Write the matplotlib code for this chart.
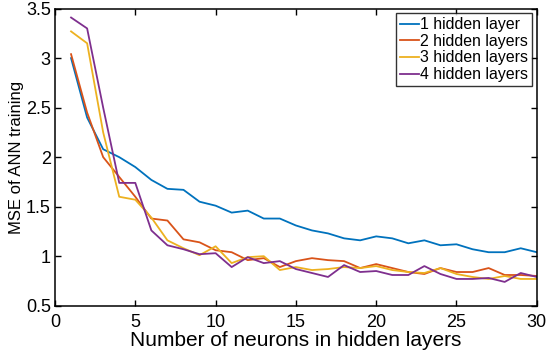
import matplotlib
matplotlib.use("Agg")
import matplotlib.pyplot as plt

neurons = list(range(1, 31))
mse_1 = [3.00, 2.40, 2.08, 2.00, 1.90, 1.77, 1.68, 1.67, 1.55, 1.51,
         1.44, 1.46, 1.38, 1.38, 1.31, 1.26, 1.23, 1.18, 1.16, 1.20,
         1.18, 1.13, 1.16, 1.11, 1.12, 1.07, 1.04, 1.04, 1.08, 1.04]
mse_2 = [3.04, 2.45, 2.00, 1.80, 1.60, 1.38, 1.36, 1.17, 1.14, 1.06,
         1.04, 0.96, 0.98, 0.89, 0.95, 0.98, 0.96, 0.95, 0.88, 0.92,
         0.88, 0.84, 0.82, 0.88, 0.84, 0.84, 0.88, 0.81, 0.81, 0.80]
mse_3 = [3.27, 3.15, 2.25, 1.60, 1.57, 1.39, 1.16, 1.08, 1.01, 1.10,
         0.93, 0.99, 1.00, 0.86, 0.89, 0.86, 0.87, 0.89, 0.88, 0.90,
         0.86, 0.84, 0.83, 0.88, 0.82, 0.79, 0.77, 0.80, 0.77, 0.77]
mse_4 = [3.41, 3.30, 2.50, 1.74, 1.74, 1.26, 1.11, 1.07, 1.02, 1.03,
         0.89, 0.99, 0.93, 0.95, 0.87, 0.83, 0.79, 0.91, 0.84, 0.85,
         0.81, 0.81, 0.90, 0.82, 0.77, 0.77, 0.78, 0.74, 0.83, 0.79]
labels = ["1 hidden layer", "2 hidden layers", "3 hidden layers", "4 hidden layers"]
colors = ["#0072BD", "#D95319", "#EDB120", "#7E2F8E"]
xticks = [0, 5, 10, 15, 20, 25, 30]
yticks = [0.5, 1, 1.5, 2, 2.5, 3, 3.5]

plt.rcParams['font.family'] = ['Liberation Sans', 'DejaVu Sans']

fig = plt.figure(figsize=(5.5, 3.59), dpi=100)
ax = fig.add_axes([0.1, 0.1485, 0.876, 0.8275])
for ys, lab, c in zip([mse_1, mse_2, mse_3, mse_4], labels, colors):
    ax.plot(neurons, ys, color=c, lw=1.3, label=lab)

ax.set_xlim(0, 30)
ax.set_ylim(0.5, 3.5)
ax.set_xticks(xticks)
ax.set_xticklabels([str(t) for t in xticks])
ax.set_yticks(yticks)
ax.set_yticklabels([f"{t:g}" for t in yticks])
ax.tick_params(direction='in', top=True, right=True, length=4, width=1,
               labelsize=13)
ax.tick_params(axis='x', pad=6)
ax.tick_params(axis='y', pad=3)
for s in ax.spines.values():
    s.set_linewidth(1.1)
ax.set_xlabel("Number of neurons in hidden layers", fontsize=15, labelpad=0)
ax.set_ylabel("MSE of ANN training", fontsize=12, labelpad=1)

leg = ax.legend(loc='upper right', fontsize=11.4, frameon=True, fancybox=False,
                edgecolor='black', handlelength=1.2, handletextpad=0.1,
                borderpad=0.25, labelspacing=0.1, borderaxespad=0.3)
leg.get_frame().set_linewidth(1.0)

fig.savefig("out.png", dpi=100)
